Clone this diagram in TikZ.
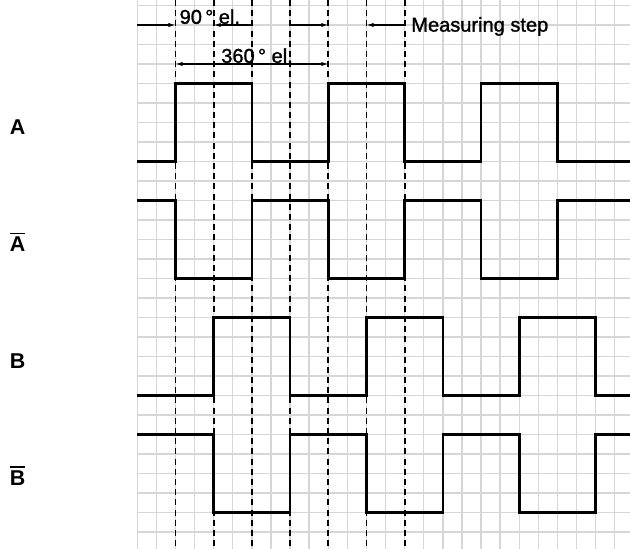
\documentclass[tikz,border=0pt]{standalone}
\usepackage{fontspec}
\setmainfont{Liberation Sans}
\newfontfamily\dimfont[FakeBold=1.3]{Liberation Sans}
\usepackage{tikz}
\usetikzlibrary{arrows.meta}
\definecolor{gridgray}{HTML}{D6D6D6}
\newcommand\ovlabel[1]{\vbox{\hrule height 1pt\kern1.6pt\hbox{#1}}}

\begin{document}
\begin{tikzpicture}[
    x=0.382cm, y=-0.39cm,
    gridline/.style={draw=gridgray, line width=0.8pt},
    signal/.style={draw=black, line width=1.5pt, line join=miter},
    dashline/.style={draw=black, line width=1pt, dash pattern=on 3.4pt off 2.4pt},
    dimarrow/.style={draw=black, line width=0.6pt, -{Latex[length=4pt,width=2.4pt]}},
    dimlabel/.style={font=\dimfont\fontsize{11.4}{13}\selectfont, inner sep=0pt, anchor=base west},
    signame/.style={font=\fontsize{12.2}{13}\selectfont\bfseries, inner sep=0pt, anchor=base},
  ]
  \useasboundingbox (-7.188,-0.282) rectangle (25.796,27.872);

  % grid
  \foreach \x in {0,...,25}
    \draw[gridline] (\x,-0.282) -- (\x,27.872);
  \foreach \y in {0,...,27}
    \draw[gridline] (0,\y) -- (25.796,\y);

  % dashed markers
  \foreach \x in {2,4,...,14}
    \draw[dashline] (\x,-0.282) -- (\x,27.872);

  % signals
  \draw[signal] (0,8) -- (2,8) -- (2,4) -- (6,4) -- (6,8) -- (10,8) -- (10,4)
    -- (14,4) -- (14,8) -- (18,8) -- (18,4) -- (22,4) -- (22,8) -- (25.9,8);
  \draw[signal] (0,10) -- (2,10) -- (2,14) -- (6,14) -- (6,10) -- (10,10) -- (10,14)
    -- (14,14) -- (14,10) -- (18,10) -- (18,14) -- (22,14) -- (22,10) -- (25.9,10);
  \draw[signal] (0,20) -- (4,20) -- (4,16) -- (8,16) -- (8,20) -- (12,20) -- (12,16)
    -- (16,16) -- (16,20) -- (20,20) -- (20,16) -- (24,16) -- (24,20) -- (25.9,20);
  \draw[signal] (0,22) -- (4,22) -- (4,26) -- (8,26) -- (8,22) -- (12,22) -- (12,26)
    -- (16,26) -- (16,22) -- (20,22) -- (20,26) -- (24,26) -- (24,22) -- (25.9,22);

  \node[signame] (sa)  at (-6.27,6.64)  {A};
  \node[signame] (sna) at (-6.27,12.64) {\ovlabel{A}};
  \node[signame] (sb)  at (-6.27,18.6)  {B};
  \node[signame] (snb) at (-6.27,24.6)  {\ovlabel{B}};

  % dimensions
  \draw[dimarrow] (0,1) -- (2,1);
  \draw[dimarrow] (6,1) -- (4,1);
  \node[dimlabel] (quarter) at (2.2,0.94) {90\,° el.};
  \draw[dimarrow, {Latex[length=4pt,width=2.4pt]}-{Latex[length=4pt,width=2.4pt]}] (2,3) -- (10,3);
  \node[dimlabel] (period) at (4.38,2.94) {360\,° el.};
  \draw[dimarrow] (8,1) -- (10,1);
  \draw[dimarrow] (14,1) -- (12,1);
  \node[dimlabel] (mstep) at (14.33,1.34) {Measuring step};
\end{tikzpicture}
\end{document}
